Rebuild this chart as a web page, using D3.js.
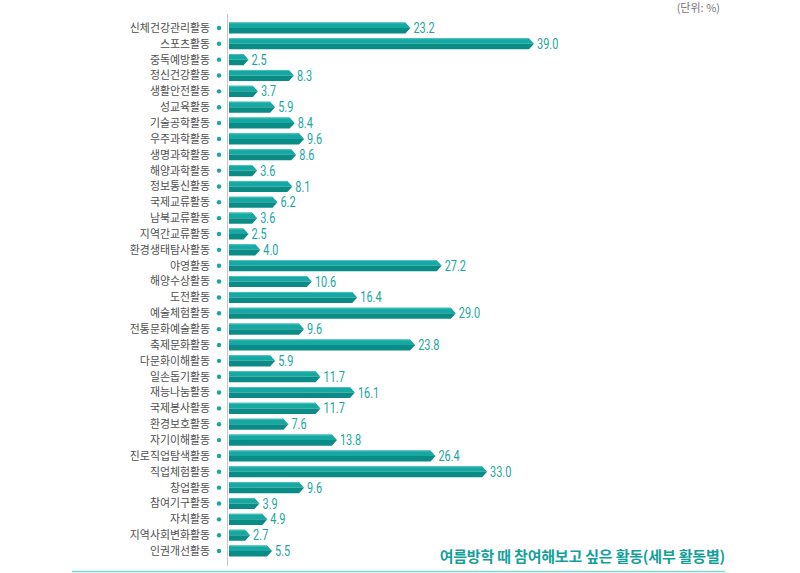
<!DOCTYPE html>
<html><head><meta charset="utf-8">
<script src="https://cdn.jsdelivr.net/npm/d3@7"></script>
<style>
body{margin:0;background:#fff;}
svg{display:block;}
</style></head>
<body>
<svg id="c" width="800" height="573"></svg>
<script>
const categories = ["신체건강관리활동","스포츠활동","중독예방활동","정신건강활동","생활안전활동","성교육활동","기술공학활동","우주과학활동","생명과학활동","해양과학활동","정보통신활동","국제교류활동","남북교류활동","지역간교류활동","환경생태탐사활동","야영활동","해양수상활동","도전활동","예술체험활동","전통문화예술활동","축제문화활동","다문화이해활동","일손돕기활동","재능나눔활동","국제봉사활동","환경보호활동","자기이해활동","진로직업탐색활동","직업체험활동","창업활동","참여기구활동","자치활동","지역사회변화활동","인권개선활동"];
const values = [23.2,39.0,2.5,8.3,3.7,5.9,8.4,9.6,8.6,3.6,8.1,6.2,3.6,2.5,4.0,27.2,10.6,16.4,29.0,9.6,23.8,5.9,11.7,16.1,11.7,7.6,13.8,26.4,33.0,9.6,3.9,4.9,2.7,5.5];
const unitLabel = "(단위: %)";
const title = "여름방학 때 참여해보고 싶은 활동(세부 활동별)";

const svg = d3.select("#c");
const x = d3.scaleLinear().domain([0, 39]).range([229, 534]);
const y = d3.scaleBand().domain(categories).range([20, 559]).paddingInner(0.3).paddingOuter(0.15);
const light = "#16a8a2", dark = "#0b8b86", teal = "#1aa6a0";
const kr = "'Noto Sans CJK KR','Noto Sans',sans-serif";
const num = "Roboto,'Liberation Sans',sans-serif";

// vertical axis line
svg.append("line").attr("x1",227.5).attr("x2",227.5).attr("y1",14).attr("y2",566)
  .attr("stroke","#c8c8c8").attr("stroke-width",1);

const g = svg.append("g");
const rows = g.selectAll("g.row").data(categories.map((c,i)=>({c, v: values[i]}))).join("g").attr("class","row");

rows.each(function(d){
  const s = d3.select(this);
  const y0 = y(d.c), h = y.bandwidth(), y1 = y0 + h, ym = y0 + h/2;
  const x0 = x(0), xe = x(d.v), tip = Math.min(5, xe - x0);
  s.append("path").attr("d", `M${x0},${y0}L${xe-tip},${y0}L${xe},${ym}L${x0},${ym}Z`).attr("fill", light);
  s.append("path").attr("d", `M${x0},${ym}L${xe},${ym}L${xe-tip},${y1}L${x0},${y1}Z`).attr("fill", dark);
  s.append("line").attr("x1",x0).attr("x2",xe-tip).attr("y1",y0+0.5).attr("y2",y0+0.5).attr("stroke","#4cc0bb").attr("stroke-width",1);
  s.append("text").attr("transform", `translate(${xe + 3},${ym}) scale(0.78,1)`).attr("dy","0.36em")
    .attr("font-family", num).attr("font-size", 14).attr("fill", teal).text(d.v.toFixed(1));
  s.append("circle").attr("cx", 219).attr("cy", ym).attr("r", 2.2).attr("fill", teal);
  s.append("text").attr("x", 210).attr("y", ym).attr("dy","0.36em").attr("text-anchor","end")
    .attr("font-family", kr).attr("font-size", 10.9).attr("fill","#505050").text(d.c);
});

svg.append("text").attr("x", 720).attr("y", 12).attr("text-anchor","end")
  .attr("font-family", kr).attr("font-size", 11).attr("fill","#777").text(unitLabel);

svg.append("text").attr("x", 725).attr("y", 562).attr("text-anchor","end")
  .attr("font-family", kr).attr("font-weight","bold").attr("font-size", 15).attr("fill","#14a09a").attr("letter-spacing","-0.2").text(title);

svg.append("line").attr("x1",72).attr("x2",725).attr("y1",571.5).attr("y2",571.5)
  .attr("stroke","#7fd6d1").attr("stroke-width",1.5);
</script>
</body></html>
